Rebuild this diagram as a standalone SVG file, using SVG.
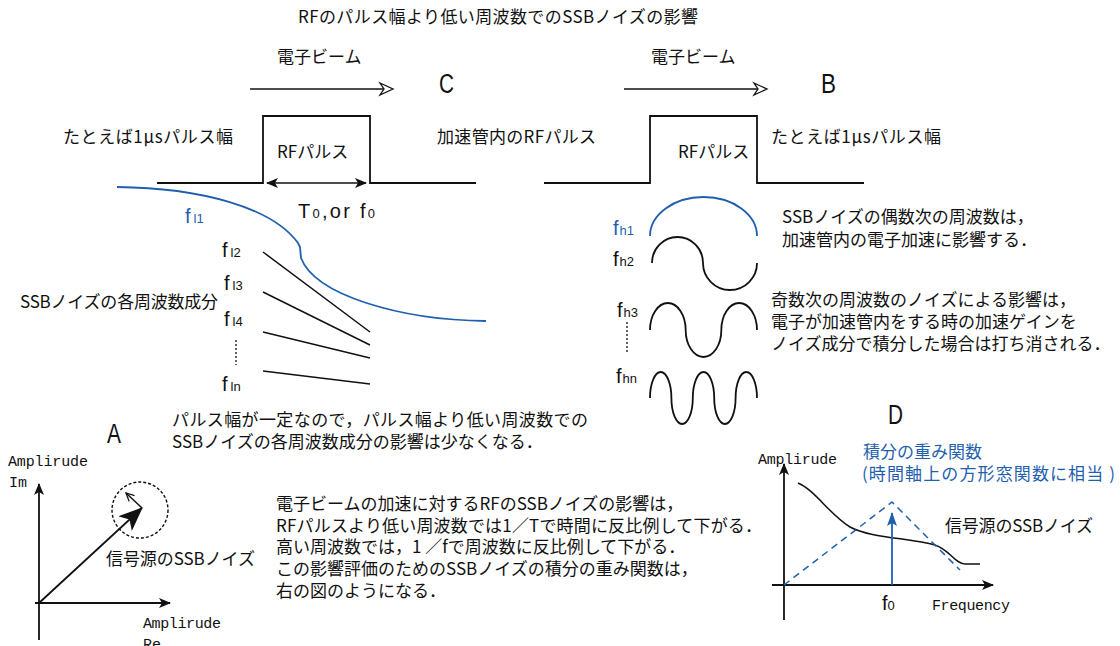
<svg xmlns="http://www.w3.org/2000/svg" width="1120" height="646" viewBox="0 0 1120 646">
<style>
.t{font-family:"Noto Sans CJK JP","Noto Sans",sans-serif;font-size:17px;fill:#111}
.m{font-family:"Liberation Mono","DejaVu Sans Mono",monospace;font-size:15px;fill:#111}
.big{font-family:"Liberation Sans",Arial,sans-serif;font-size:27px;fill:#111}
.f{font-family:"Liberation Sans",Arial,sans-serif;font-size:20px;fill:#111}
.sub{font-size:13px}
text.bt{fill:#1f5fae}
.ln{stroke:#111;stroke-width:1.8;fill:none}
.thin{stroke:#111;stroke-width:1.5;fill:none}
.blue{stroke:#1f5fae;stroke-width:1.8;fill:none}
.dot{stroke:#111;stroke-width:1.3;stroke-dasharray:2 2;fill:none}
.open{fill:#fff;stroke:#111;stroke-width:1.3}
</style>
<defs>
<marker id="ah" viewBox="0 0 12 10" refX="11" refY="5" markerWidth="12" markerHeight="10" markerUnits="userSpaceOnUse" orient="auto-start-reverse"><path d="M0,0 L12,5 L0,10 L3,5 z" fill="#111"/></marker>
<marker id="ahb" viewBox="0 0 14 10" refX="13" refY="5" markerWidth="14" markerHeight="10" markerUnits="userSpaceOnUse" orient="auto"><path d="M0,0 L14,5 L0,10 L3,5 z" fill="#1f5fae"/></marker>
<marker id="big" viewBox="0 0 24 20" refX="23" refY="10" markerWidth="24" markerHeight="20" markerUnits="userSpaceOnUse" orient="auto"><path d="M0,0 L24,10 L0,20 L6,10 z" fill="#111"/></marker>
<marker id="vee" viewBox="0 0 10 10" refX="9" refY="5" markerWidth="10" markerHeight="10" markerUnits="userSpaceOnUse" orient="auto"><path d="M1,1 L9,5 L1,9" fill="none" stroke="#111" stroke-width="1.3"/></marker>
</defs>
<rect width="1120" height="646" fill="#fff"/>

<text class="t" x="298" y="23" textLength="400">RFのパルス幅より低い周波数でのSSBノイズの影響</text>

<g id="pulseC">
<text class="t" x="277" y="63">電子ビーム</text>
<line class="thin" x1="250" y1="89" x2="384" y2="89"/>
<path class="open" d="M380,83 L393,89 L380,95 L384,89 z"/>
<text class="big" x="439" y="93" textLength="15" lengthAdjust="spacingAndGlyphs">C</text>
<text class="t" x="63" y="143" textLength="170">たとえば1μsパルス幅</text>
<path class="ln" d="M157,183 H263 V116 H370 V183 H476"/>
<text class="t" x="277" y="158">RFパルス</text>
<line class="thin" x1="267" y1="183" x2="366" y2="183" marker-start="url(#ah)" marker-end="url(#ah)"/>
<text class="f" x="298" y="218" textLength="77">T<tspan class="sub">0</tspan>,or  f<tspan class="sub">0</tspan></text>
<text class="t" x="437" y="143" textLength="159">加速管内のRFパルス</text>
</g>

<g id="pulseB">
<text class="t" x="651" y="63">電子ビーム</text>
<line class="thin" x1="624" y1="89" x2="758" y2="89"/>
<path class="open" d="M754,83 L767,89 L754,95 L758,89 z"/>
<text class="big" x="821" y="93" textLength="15" lengthAdjust="spacingAndGlyphs">B</text>
<path class="ln" d="M544,183 H650 V116 H757 V183 H864"/>
<text class="t" x="678" y="158">RFパルス</text>
<text class="t" x="771" y="143" textLength="170">たとえば1μsパルス幅</text>
</g>

<g id="lowfreq">
<path class="blue" d="M117,187 C200,188 272,207 298,243 L300,247 L301,258 C315,295 400,320 486,321"/>
<text class="f bt" x="185" y="223">f<tspan class="sub" dx="3">l1</tspan></text>
<text class="f" x="222" y="257">f<tspan class="sub" dx="3">l2</tspan></text>
<text class="f" x="224" y="290">f<tspan class="sub" dx="3">l3</tspan></text>
<text class="f" x="224" y="326">f<tspan class="sub" dx="3">l4</tspan></text>
<text class="f" x="222" y="391">f<tspan class="sub" dx="3">ln</tspan></text>
<line class="dot" x1="236" y1="340" x2="236" y2="365"/>
<text class="t" x="20" y="308" textLength="198">SSBノイズの各周波数成分</text>
</g>

<g id="connectors">
<line class="thin" x1="263" y1="252" x2="370" y2="332"/>
<line class="thin" x1="263" y1="292" x2="370" y2="345"/>
<line class="thin" x1="263" y1="332" x2="370" y2="358"/>
<line class="thin" x1="263" y1="371" x2="370" y2="384"/>
</g>

<g id="highfreq">
<text class="f bt" x="613" y="235">f<tspan class="sub" dx="1">h1</tspan></text>
<text class="f" x="613" y="266">f<tspan class="sub" dx="1">h2</tspan></text>
<text class="f" x="617" y="317">f<tspan class="sub" dx="1">h3</tspan></text>
<text class="f" x="616" y="383">f<tspan class="sub" dx="1">hn</tspan></text>
<line class="dot" x1="627" y1="322" x2="627" y2="353"/>
<path class="blue" d="M650,236 A53.5,39 0 0 1 757,236"/>
<path class="ln" d="M652,263 A25.5,26 0 0 1 703,263 A27,27 0 0 0 757,263"/>
<path class="ln" d="M650,330 A17.83,27 0 0 1 685.67,330 A17.83,27 0 0 0 721.33,330 A17.83,27 0 0 1 757,330"/>
<path class="ln" d="M650,398 A10.7,26 0 0 1 671.4,398 A10.7,26 0 0 0 692.8,398 A10.7,26 0 0 1 714.2,398 A10.7,26 0 0 0 735.6,398 A10.7,26 0 0 1 757,398"/>
<text class="t" x="782" y="223">SSBノイズの偶数次の周波数は，</text>
<text class="t" x="782" y="246">加速管内の電子加速に影響する．</text>
<text class="t" x="771" y="306">奇数次の周波数のノイズによる影響は，</text>
<text class="t" x="771" y="328">電子が加速管内をする時の加速ゲインを</text>
<text class="t" x="771" y="350">ノイズ成分で積分した場合は打ち消される．</text>
</g>

<g id="phasorA">
<text class="big" x="107" y="443" textLength="14" lengthAdjust="spacingAndGlyphs">A</text>
<text class="t" x="172" y="426" textLength="416">パルス幅が一定なので，パルス幅より低い周波数での</text>
<text class="t" x="172" y="448">SSBノイズの各周波数成分の影響は少なくなる．</text>
<text class="m" x="8" y="466" textLength="80">Amplirude</text>
<text class="m" x="9" y="487">Im</text>
<line class="ln" x1="39" y1="640" x2="39" y2="484" marker-end="url(#ah)"/>
<line class="ln" x1="35" y1="603" x2="170" y2="603" marker-end="url(#ah)"/>
<line class="ln" x1="39" y1="603" x2="142" y2="508" marker-end="url(#big)"/>
<circle cx="140" cy="510" r="28" fill="none" stroke="#111" stroke-width="1.4" stroke-dasharray="3 2"/>
<line class="thin" x1="142" y1="508" x2="126" y2="493" marker-end="url(#vee)"/>
<text class="t" x="106" y="565" textLength="149">信号源のSSBノイズ</text>
<text class="m" x="143" y="628" textLength="78">Amplirude</text>
<text class="m" x="143" y="649">Re</text>
</g>

<g id="explain">
<text class="t" x="276" y="510">電子ビームの加速に対するRFのSSBノイズの影響は，</text>
<text class="t" x="276" y="532" textLength="486">RFパルスより低い周波数では1／Tで時間に反比例して下がる．</text>
<text class="t" x="276" y="553">高い周波数では，1 ／fで周波数に反比例して下がる．</text>
<text class="t" x="276" y="575">この影響評価のためのSSBノイズの積分の重み関数は，</text>
<text class="t" x="276" y="597">右の図のようになる．</text>
</g>

<g id="spectrumD">
<text class="big" x="888" y="424" textLength="15" lengthAdjust="spacingAndGlyphs">D</text>
<text class="t bt" x="863" y="458">積分の重み関数</text>
<text class="t bt" x="862" y="480" textLength="253">(時間軸上の方形窓関数に相当 )</text>
<text class="m" x="758" y="464" textLength="79">Amplirude</text>
<line class="ln" x1="784" y1="620" x2="784" y2="464" marker-end="url(#ah)"/>
<line class="ln" x1="772" y1="585" x2="993" y2="585" marker-end="url(#ah)"/>
<path class="thin" d="M798,483 C815,490 830,515 850,527 C870,538 910,538 935,545 C950,550 955,564 965,564 L980,564"/>
<path d="M784,585 L892,502 L960,570" fill="none" stroke="#1f5fae" stroke-width="1.5" stroke-dasharray="7 5"/>
<line x1="892" y1="585" x2="892" y2="513" stroke="#1f5fae" stroke-width="1.8" marker-end="url(#ahb)"/>
<text class="t" x="945" y="532" textLength="148">信号源のSSBノイズ</text>
<text class="f" x="882" y="610">f<tspan class="sub">0</tspan></text>
<text class="m" x="932" y="610" textLength="78">Frequency</text>
</g>
</svg>
